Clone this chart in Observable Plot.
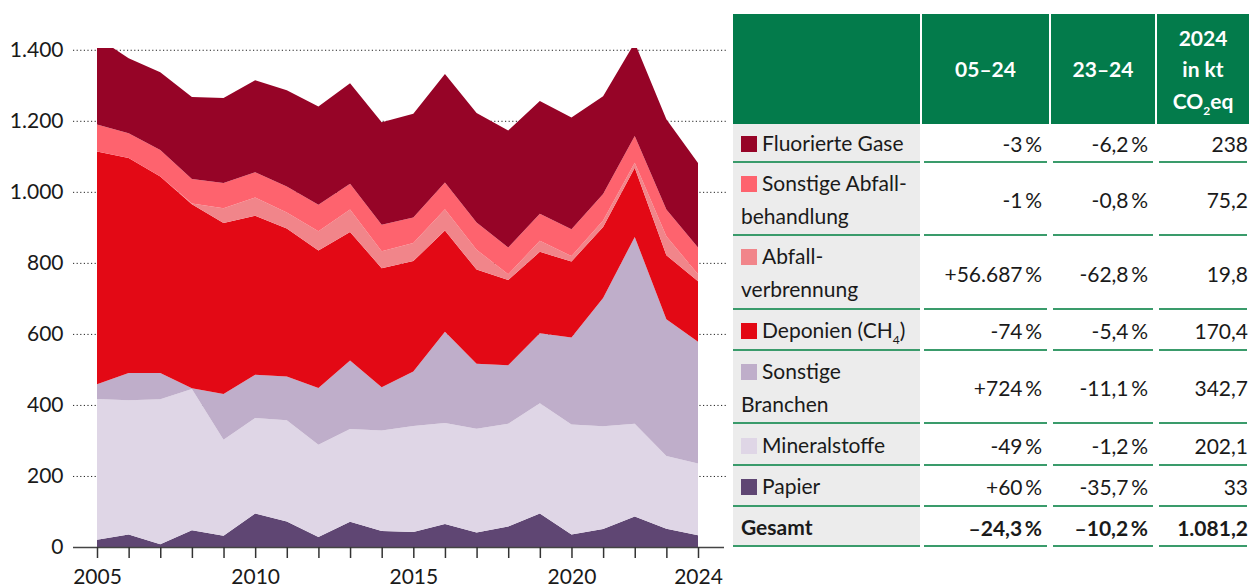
<!DOCTYPE html>
<html>
<head>
<meta charset="utf-8">
<script src="https://cdn.jsdelivr.net/npm/d3@7"></script>
<script src="https://cdn.jsdelivr.net/npm/@observablehq/plot@0.6"></script>
<style>
  html, body { margin: 0; padding: 0; background: #fff; }
  #wrap { position: relative; width: 1249px; height: 588px; overflow: hidden; font-family: Lato, sans-serif; color: #1a1a1a; }
  #chart { position: absolute; left: 0; top: 0; }
  #tbl { position: absolute; left: 733px; top: 14px; display: grid;
         grid-template-columns: 187px 127px 104px 92px; column-gap: 2px;
         grid-template-rows: 110px 39px 73px 74px 41px 73px 42px 41px 40px; font-size: 21px; }
  .hd { background: #037b4b; color: #fff; font-weight: 700; display: flex; align-items: center; justify-content: center; text-align: center; line-height: 31.5px; }
  .lab { background: #ececec; border-bottom: 2px solid #3a9b6b; box-sizing: border-box; display: flex; align-items: center; padding-left: 8px; line-height: 33px; }
  .num { position: relative; display: flex; align-items: center; justify-content: flex-end; padding-right: 7px; box-sizing: border-box; }
  .num::after { content: ""; position: absolute; left: 2px; right: 2px; bottom: 0; height: 2px; background: #3a9b6b; }
  .bold { font-weight: 700; }
  .sw { display: inline-block; width: 16px; height: 16px; margin-right: 5px; vertical-align: -1px; }
  .sub { font-size: 12px; position: relative; top: 6px; line-height: 0; }
</style>
</head>
<body>
<div id="wrap">
  <div id="chart"></div>
  <div id="tbl"></div>
</div>
<script>
// ---- data (kt CO2eq), stacked bottom to top ----
const years = [2005, 2006, 2007, 2008, 2009, 2010, 2011, 2012, 2013, 2014, 2015, 2016, 2017, 2018, 2019, 2020, 2021, 2022, 2023, 2024];
const papier            = [20.6, 35, 8, 47, 32, 94, 72, 28, 71, 45, 42, 65, 41, 58, 94, 35, 51, 86, 51.3, 33];
const mineralstoffe     = [396.3, 378, 408, 398, 270, 269, 285, 260, 261, 283, 299, 284, 292, 289, 311, 310, 289, 261, 204.6, 202.1];
const sonstigeBranchen  = [41.6, 77, 74, 2, 129, 122, 123, 160, 193, 122, 153, 257, 183, 165, 197, 245, 361, 526, 385.5, 342.7];
const deponien          = [655.4, 605, 553, 518, 481, 448, 417, 387, 362, 335, 311, 285, 265, 240, 229, 214, 200, 195, 180.1, 170.4];
const abfallverbrennung = [0.03, 0, 0, 2, 42, 51, 45, 54, 63, 48, 51, 60, 56, 16, 31, 15, 18, 14, 53.2, 19.8];
const sonstigeAbfall    = [76, 70, 75, 69, 71, 71, 73, 75, 73, 74, 72, 75, 77, 75, 76, 76, 75, 75, 75.8, 75.2];
const fluorierteGase    = [245.4, 211, 219, 231, 239, 259, 271, 276, 283, 289, 292, 306, 308, 330, 318, 314, 275, 263, 253.7, 238];

const seriesNames  = ["Papier", "Mineralstoffe", "Sonstige Branchen", "Deponien (CH4)", "Abfallverbrennung", "Sonstige Abfallbehandlung", "Fluorierte Gase"];
const seriesValues = [papier, mineralstoffe, sonstigeBranchen, deponien, abfallverbrennung, sonstigeAbfall, fluorierteGase];
const seriesColors = ["#5f4673", "#dfd6e6", "#bfaeca", "#e30915", "#f1858a", "#fe636e", "#960427"];

const yTicks = [0, 200, 400, 600, 800, 1000, 1200, 1400];
const xLabelTicks = [2005, 2010, 2015, 2020, 2024];

// ---- table data (top to bottom) ----
const tableLabels = ["Fluorierte Gase", "Sonstige Abfall-<br>behandlung", "Abfall-<br>verbrennung", "Deponien (CH<span class='sub'>4</span>)", "Sonstige<br>Branchen", "Mineralstoffe", "Papier"];
const tableColors = ["#960427", "#fe636e", "#f1858a", "#e30915", "#bfaeca", "#dfd6e6", "#5f4673"];
const change0524  = ["-3", "-1", "+56.687", "-74", "+724", "-49", "+60"];
const change2324  = ["-6,2", "-0,8", "-62,8", "-5,4", "-11,1", "-1,2", "-35,7"];
const value2024   = ["238", "75,2", "19,8", "170,4", "342,7", "202,1", "33"];
const totalRow    = ["Gesamt", "–24,3", "–10,2", "1.081,2"];
const headers     = ["", "05–24", "23–24", "2024<br>in kt<br>CO<span class='sub'>2</span>eq"];

// ---- chart ----
const tidy = seriesNames.flatMap((name, k) => years.map((year, i) => ({year, value: seriesValues[k][i], series: name})));
const fmtY = d => d3.format(",")(d).replace(/,/g, ".");

const chart = Plot.plot({
  width: 730,
  height: 588,
  marginLeft: 97,
  marginRight: 32,
  marginTop: 48,
  marginBottom: 41,
  style: {fontFamily: "Lato, sans-serif", fontSize: "21px", color: "#1a1a1a", background: "transparent"},
  x: {domain: [2005, 2024], label: null},
  y: {domain: [0, 1405], label: null},
  color: {domain: seriesNames, range: seriesColors},
  marks: [
    Plot.ruleY(yTicks.filter(d => d > 0), {stroke: "#222", strokeWidth: 1, strokeDasharray: "1.2,2.4", insetLeft: -24, insetRight: -30}),
    Plot.areaY(tidy, {x: "year", y: "value", z: "series", fill: "series", order: seriesNames, clip: true}),
    Plot.ruleY([0], {stroke: "#444", strokeWidth: 1.6, insetLeft: -24, insetRight: -26}),
    Plot.axisY({ticks: yTicks, tickSize: 0, tickPadding: 34, tickFormat: fmtY, fontSize: 21, label: null}),
    Plot.axisX({ticks: years, tickSize: 11, tickFormat: () => "", stroke: "#333", strokeWidth: 1.5, label: null}),
    Plot.axisX({ticks: xLabelTicks, tickSize: 0, tickPadding: 22, tickFormat: d => String(d), fontSize: 21, label: null})
  ]
});
document.getElementById("chart").appendChild(chart);

// ---- table ----
const pct = s => s + "\u2009%";
const tbl = document.getElementById("tbl");
let html = "";
headers.forEach(h => { html += `<div class="hd"><div>${h}</div></div>`; });
tableLabels.forEach((lab, i) => {
  html += `<div class="lab"><div><span class="sw" style="background:${tableColors[i]}"></span>${lab}</div></div>`;
  html += `<div class="num"><span>${pct(change0524[i])}</span></div>`;
  html += `<div class="num"><span>${pct(change2324[i])}</span></div>`;
  html += `<div class="num" style="padding-right:1px"><span>${value2024[i]}</span></div>`;
});
html += `<div class="lab bold"><div>${totalRow[0]}</div></div>`;
html += `<div class="num bold"><span>${pct(totalRow[1])}</span></div>`;
html += `<div class="num bold"><span>${pct(totalRow[2])}</span></div>`;
html += `<div class="num bold" style="padding-right:1px"><span>${totalRow[3]}</span></div>`;
tbl.innerHTML = html;
</script>
</body>
</html>
